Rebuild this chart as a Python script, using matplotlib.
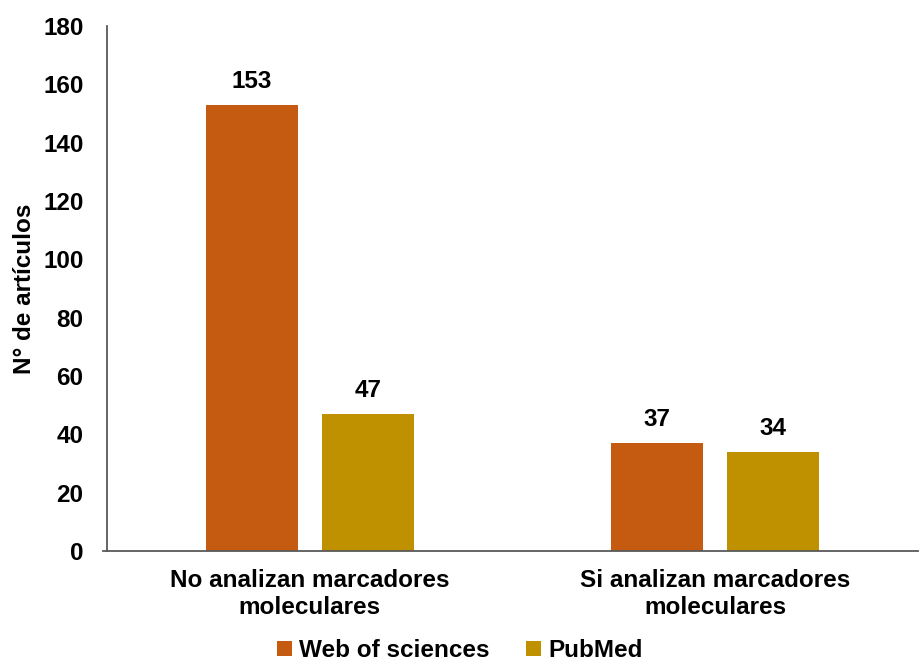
import matplotlib.pyplot as plt
import numpy as np

plt.rcParams["font.family"] = ["Liberation Sans", "DejaVu Sans"]
plt.rcParams["font.weight"] = "bold"

categorias = ["No analizan marcadores\nmoleculares", "Si analizan marcadores\nmoleculares"]
series = ["Web of sciences", "PubMed"]
web_of_sciences = [153, 37]
pubmed = [47, 34]
colores = ["#C55A11", "#BF9000"]

fig = plt.figure(figsize=(9.2, 6.63), dpi=100)
ax = fig.add_axes([0.1163, 0.169, 0.8817, 0.792])

x = np.arange(len(categorias))
ancho = 0.227
desp = 0.143

for valores, offset, color, nombre in zip(
    [web_of_sciences, pubmed], [-desp, desp], colores, series
):
    barras = ax.bar(x + offset, valores, width=ancho, color=color, label=nombre)
    for b, v in zip(barras, valores):
        ax.text(
            b.get_x() + b.get_width() / 2,
            v + 4,
            str(v),
            ha="center",
            va="bottom",
            fontsize=17.5,
            fontweight="bold",
        )

ax.set_xlim(-0.5, 1.5)
ax.set_ylim(0, 180)
ax.set_yticks(range(0, 181, 20))
ax.set_xticks(x)
ax.set_xticklabels(categorias, fontsize=17.5, fontweight="bold", linespacing=1.2)
ax.tick_params(axis="y", length=0, labelsize=17.5, pad=17)
ax.tick_params(axis="x", length=0, pad=13)
for lbl in ax.get_yticklabels():
    lbl.set_fontweight("bold")

for s in ["top", "right"]:
    ax.spines[s].set_visible(False)
for s in ["left", "bottom"]:
    ax.spines[s].set_color("#595959")
    ax.spines[s].set_linewidth(1.3)

# pequeña marca a la izquierda del cero
ax.plot([-0.51, -0.5], [0, 0], color="#595959", lw=1.3, clip_on=False)

ax.set_ylabel("N° de artículos", fontsize=17.5, fontweight="bold", labelpad=5)

handles, labels = ax.get_legend_handles_labels()
fig.legend(
    handles,
    labels,
    loc="center",
    bbox_to_anchor=(0.5, 0.019),
    ncol=2,
    frameon=False,
    handlelength=0.6,
    handleheight=0.6,
    handletextpad=0.3,
    columnspacing=1.5,
    borderpad=0.0,
    prop={"weight": "bold", "size": 17.5},
)

fig.savefig("out.png", dpi=100)
